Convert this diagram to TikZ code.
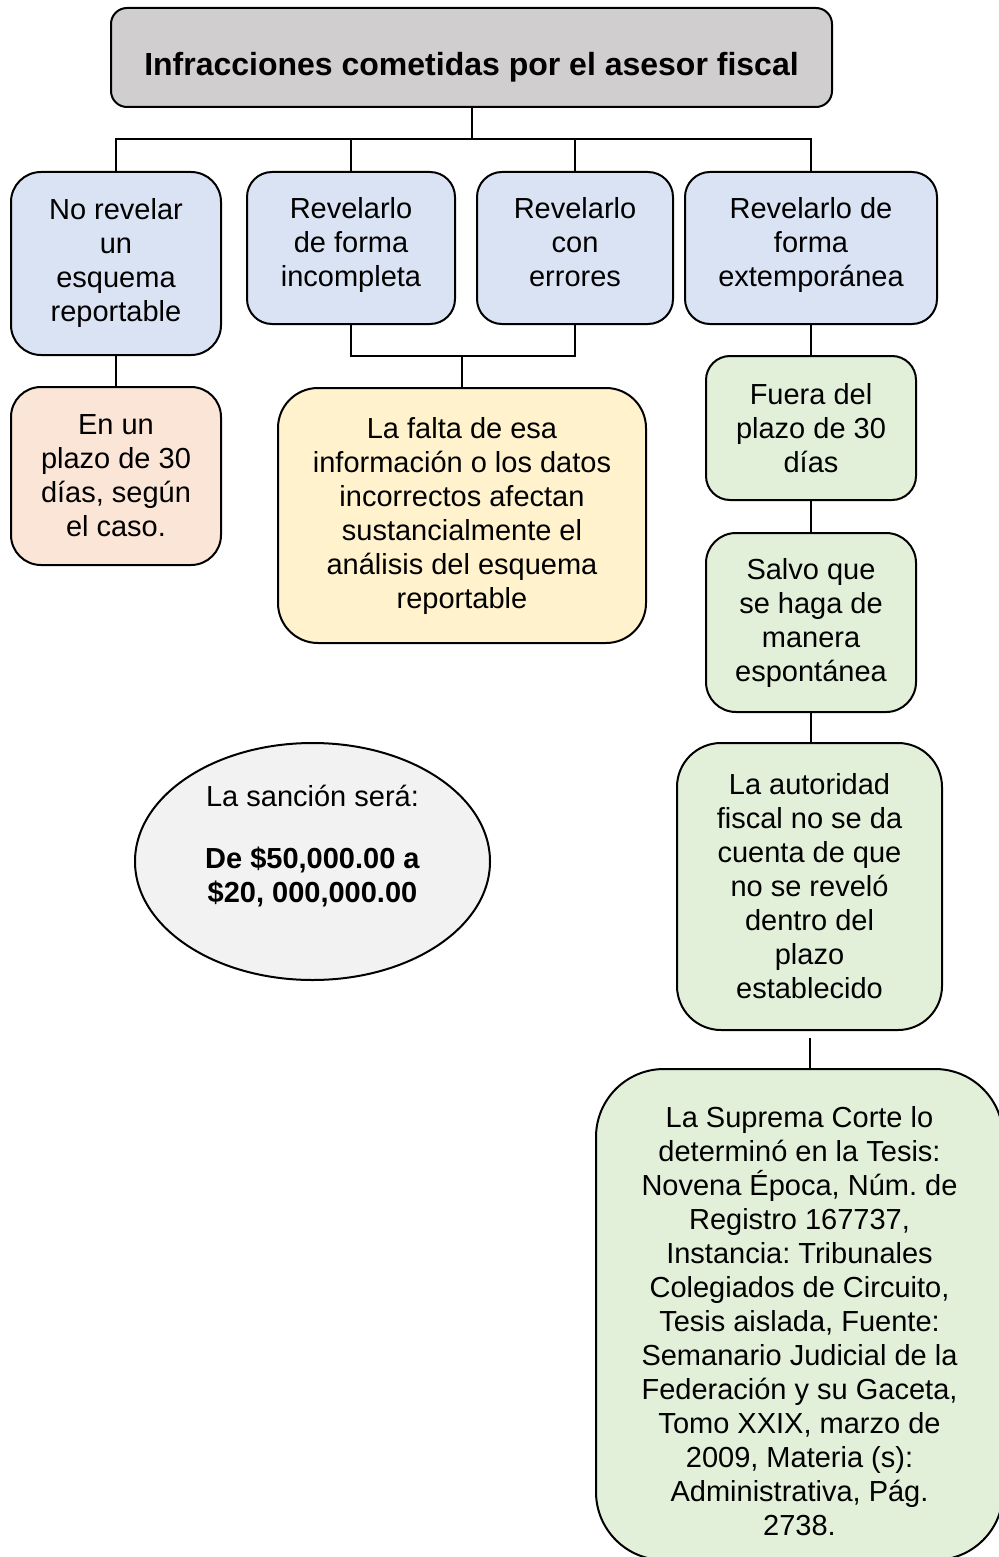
\documentclass[tikz,border=0pt]{standalone}
\usepackage{fontspec}
\setmainfont{Liberation Sans}
\usepackage{tikz}
\usetikzlibrary{shapes.geometric}
\frenchspacing
\definecolor{grisT}{HTML}{D0CECE}
\definecolor{azulC}{HTML}{DAE3F3}
\definecolor{rosaC}{HTML}{FBE5D6}
\definecolor{amarC}{HTML}{FFF2CC}
\definecolor{verdeC}{HTML}{E2F0D9}
\definecolor{grisE}{HTML}{F2F2F2}

\begin{document}
\begin{tikzpicture}[x=0.5pt,y=-0.5pt,line width=1pt,
  font=\fontsize{14.5}{17}\selectfont,
  caja/.style={draw,align=center,inner sep=2pt},
  azul/.style={caja,fill=azulC,minimum height=76pt,rounded corners=12.5pt,text depth=6pt},
  verde/.style={caja,fill=verdeC}]
\clip (0,0) rectangle (999,1557);
\node[caja,fill=grisT,rounded corners=8pt,minimum width=360.5pt,minimum height=49.5pt,text height=21.6pt,text depth=3.4pt,font=\bfseries\fontsize{16}{19}\selectfont] (T) at (471.5,57.5) {Infracciones cometidas por el asesor fiscal};
\node[azul,minimum width=105pt,minimum height=91.5pt,rounded corners=15pt,text depth=3.6pt] (b1) at (116,263.5) {No revelar\\un\\esquema\\reportable};
\node[azul,minimum width=104pt] (b2) at (351,248) {Revelarlo\\de forma\\incompleta};
\node[azul,minimum width=98pt] (b3) at (575,248) {Revelarlo\\con\\errores};
\node[azul,minimum width=126pt] (b4) at (811,248) {Revelarlo de\\forma\\extemporánea};
\node[caja,fill=rosaC,minimum width=105pt,minimum height=89pt,rounded corners=15pt] (p1) at (116,476) {En un\\plazo de 30\\días, según\\el caso.};
\node[caja,fill=amarC,minimum width=184pt,minimum height=127.5pt,rounded corners=20pt] (y1) at (462,515.5) {La falta de esa\\información o los datos\\incorrectos afectan\\sustancialmente el\\análisis del esquema\\reportable};
\node[verde,minimum width=105pt,minimum height=72pt,rounded corners=12pt] (g1) at (811,428) {Fuera del\\plazo de 30\\días};
\node[verde,minimum width=105pt,minimum height=89.5pt,rounded corners=15pt] (g2) at (811,622.5) {Salvo que\\se haga de\\manera\\espontánea};
\node[verde,minimum width=132.5pt,minimum height=143.5pt,rounded corners=22pt] (g3) at (809.5,886.5) {La autoridad\\fiscal no se da\\cuenta de que\\no se reveló\\dentro del\\plazo\\establecido};
\node[verde,minimum width=203.5pt,minimum height=245.5pt,rounded corners=34pt,text depth=0pt] (g4) at (799.5,1314.5) {\rule{0pt}{16.5pt}La Suprema Corte lo\\determinó en la Tesis:\\Novena Época, Núm. de\\Registro 167737,\\Instancia: Tribunales\\Colegiados de Circuito,\\Tesis aislada, Fuente:\\Semanario Judicial de la\\Federación y su Gaceta,\\Tomo XXIX, marzo de\\2009, Materia (s):\\Administrativa, Pág.\\2738.};
\node[draw,ellipse,fill=grisE,inner sep=0pt,minimum width=177.5pt,minimum height=118.5pt] (pena) at (312.5,861.5) {};
\node[align=center] (penatxt) at (312.5,846) {La sanción será:\\[14pt]\textbf{De \$50,000.00 a}\\\textbf{\$20, 000,000.00}};
\coordinate (bus) at (0,139);
\coordinate (union) at (0,356);
\draw (T.south) -- (T.south |- bus);
\draw (b1.north) -- (b1.north |- bus) -- (b4.north |- bus) -- (b4.north);
\draw (b2.north) -- (b2.north |- bus);
\draw (b3.north) -- (b3.north |- bus);
\draw (b1) -- (p1);
\draw (b2.south) -- (b2.south |- union) -- (b3.south |- union) -- (b3.south);
\draw (y1.north) -- (y1.north |- union);
\draw (b4) -- (g1);
\draw (g1) -- (g2);
\draw (g2.south) -- (g2.south |- g3.north);
\draw ([yshift=-3.5pt]g3.south) -- (g3.south |- g4.north);
\end{tikzpicture}
\end{document}
